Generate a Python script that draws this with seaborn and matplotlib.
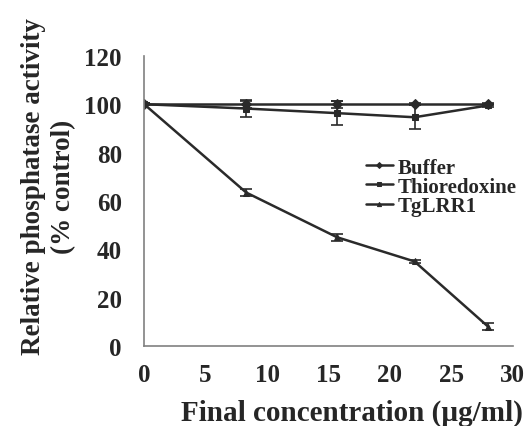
import matplotlib
matplotlib.use("Agg")
import matplotlib.pyplot as plt
import seaborn as sns
import pandas as pd

conc = [0, 8.3, 15.7, 22, 28]
buffer_vals = [100, 100, 100, 100, 100]
buffer_err = [0.5, 1.5, 1.5, 0.5, 0.5]
thio_vals = [100, 98.2, 96.3, 94.6, 99.5]
thio_err = [0.5, 3.5, 5.0, 5.0, 0.5]
tg_vals = [100, 63.5, 45, 35, 8]
tg_err = [0.5, 1.5, 1.5, 0.5, 1.5]
series = ["Buffer", "Thioredoxine", "TgLRR1"]
xticks = [0, 5, 10, 15, 20, 25, 30]
yticks = [0, 20, 40, 60, 80, 100, 120]

sns.set_style("white")
plt.rcParams['font.family'] = ['Liberation Serif', 'DejaVu Serif']
plt.rcParams['font.weight'] = 'bold'

df = pd.DataFrame({
    "conc": conc * 3,
    "val": buffer_vals + thio_vals + tg_vals,
    "series": [series[0]] * 5 + [series[1]] * 5 + [series[2]] * 5,
})
errs = {series[0]: (buffer_vals, buffer_err), series[1]: (thio_vals, thio_err), series[2]: (tg_vals, tg_err)}

fig = plt.figure(figsize=(5.26, 4.27), dpi=100)
ax = fig.add_axes([0.274, 0.187, 0.701, 0.68])
color = "#2a2a2a"
sns.lineplot(data=df, x="conc", y="val", hue="series", style="series",
             markers={"Buffer": "D", "Thioredoxine": "s", "TgLRR1": "^"},
             dashes=False, palette=[color] * 3, markersize=5, linewidth=1.8,
             markeredgecolor=color, ax=ax)
for s in series:
    v, e = errs[s]
    ax.errorbar(conc, v, yerr=e, fmt="none", ecolor=color, elinewidth=1.2, capsize=4, capthick=1.2)

ax.set_xlim(0, 30)
ax.set_ylim(0, 120)
ax.set_xticks(xticks)
ax.set_yticks(yticks)
ax.set_xticklabels([str(t) for t in xticks], fontsize=18, fontweight='bold')
ax.set_yticklabels([str(t) for t in yticks], fontsize=18, fontweight='bold')
for sp in ["top", "right"]:
    ax.spines[sp].set_visible(False)
for sp in ["left", "bottom"]:
    ax.spines[sp].set_color("#808080")
    ax.spines[sp].set_linewidth(1.2)
ax.tick_params(axis="x", direction="out", length=6, width=1.2, color="#808080", pad=6)
ax.tick_params(axis="y", direction="out", length=6, width=1.2, color="#808080", pad=10)
ax.set_xlabel("Final concentration (µg/ml)", fontsize=21, fontweight='bold')
ax.xaxis.set_label_coords(0.564, -0.18)
ax.set_ylabel("Relative phosphatase activity\n(% control)", fontsize=19.5, fontweight='bold', linespacing=1.25)
ax.yaxis.set_label_coords(-0.185, 0.553)

leg = ax.legend(loc="upper left", bbox_to_anchor=(0.578, 0.678), frameon=False,
                fontsize=15, handlelength=1.3, handletextpad=0.25, labelspacing=-0.04, borderaxespad=0)
for t in leg.get_texts():
    t.set_fontweight('bold')
for h in leg.legend_handles:
    h.set_markersize(3)

fig.savefig("out.png", dpi=100)
